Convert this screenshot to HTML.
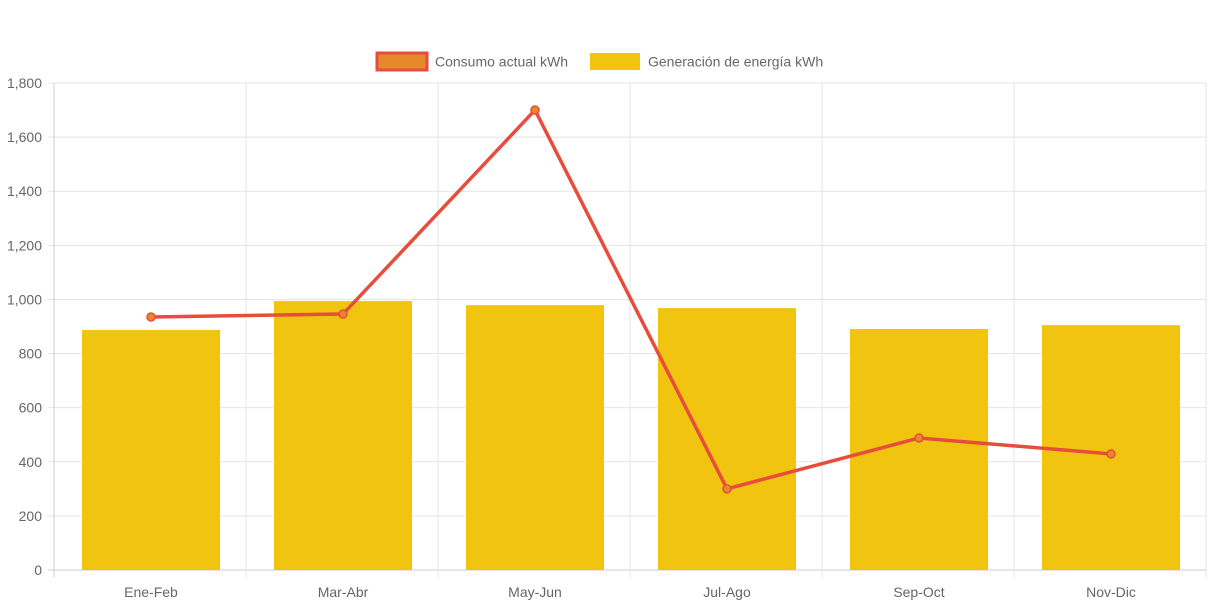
<!DOCTYPE html>
<html><head><meta charset="utf-8"><style>
html,body{margin:0;padding:0;background:#fff;}
svg{display:block;font-family:"Liberation Sans",Arial,sans-serif;}
</style></head><body>
<svg id="chart" width="1213" height="606">
<g id="grid"></g>
<g id="bars"></g>
<g id="line"></g>
<g id="axes"></g>
<g id="legend">
  <g>
    <rect x="377" y="53" width="50" height="17" fill="#e6892a" stroke="#e74c3c" stroke-width="3"></rect>
    <text x="435" y="66.5" font-size="14" fill="#666">Consumo actual kWh</text>
  </g>
  <g>
    <rect x="590" y="53" width="50" height="17" fill="#f1c40f"></rect>
    <text x="648" y="66.5" font-size="14" fill="#666">Generación de energía kWh</text>
  </g>
</g>
</svg>
<script>
const categories=["Ene-Feb","Mar-Abr","May-Jun","Jul-Ago","Sep-Oct","Nov-Dic"];
const generacion=[887,994,979,968,891,905];
const consumo=[935,946,1700,300,488,429];
const yTicks=[0,200,400,600,800,1000,1200,1400,1600,1800];
const yTickLabels=["0","200","400","600","800","1,000","1,200","1,400","1,600","1,800"];
const NS="http://www.w3.org/2000/svg";
const L=54,R=1206,T=83,B=570,yMax=1800;
const bw=(R-L)/categories.length;
const x=i=>L+bw*(i+0.5)+1;
const y=v=>B-(v/yMax)*(B-T);
function mk(tag,attrs,parent){const e=document.createElementNS(NS,tag);for(const k in attrs)e.setAttribute(k,attrs[k]);parent.appendChild(e);return e;}
const grid=document.getElementById('grid'),bars=document.getElementById('bars'),line=document.getElementById('line'),axes=document.getElementById('axes');
yTicks.forEach((t,i)=>{
  const g=mk('line',{x1:L-6,x2:R,y1:y(t),y2:y(t),stroke:i===0?'#ccc':'#e5e5e5','stroke-width':1},grid);
  
  
  const tx=mk('text',{x:L-12,y:y(t)+5,'text-anchor':'end','font-size':14,fill:'#666'},axes);
  tx.textContent=yTickLabels[i];
  
  
});
for(let i=0;i<=categories.length;i++){
  const xx=L+bw*i;
  const g=mk('line',{x1:xx,x2:xx,y1:T,y2:B+7,stroke:i===0?'#ccc':'#e5e5e5','stroke-width':1},grid);
  
  
}
categories.forEach((c,i)=>{
  const r=mk('rect',{x:x(i)-69,y:y(generacion[i]),width:138,height:B-y(generacion[i]),fill:'#f1c40f'},bars);
  
  
  const tx=mk('text',{x:x(i),y:597,'text-anchor':'middle','font-size':14,fill:'#666'},axes);
  tx.textContent=c;
  
  
});
const p=mk('polyline',{points:consumo.map((v,i)=>x(i)+','+y(v)).join(' '),fill:'none',stroke:'#e74c3c','stroke-width':3.5},line);


consumo.forEach((v,i)=>{
  const c=mk('circle',{cx:x(i),cy:y(v),r:4,fill:'#e6892a',stroke:'#e74c3c','stroke-width':1.5},line);
  
  
});
</script>
</body></html>
